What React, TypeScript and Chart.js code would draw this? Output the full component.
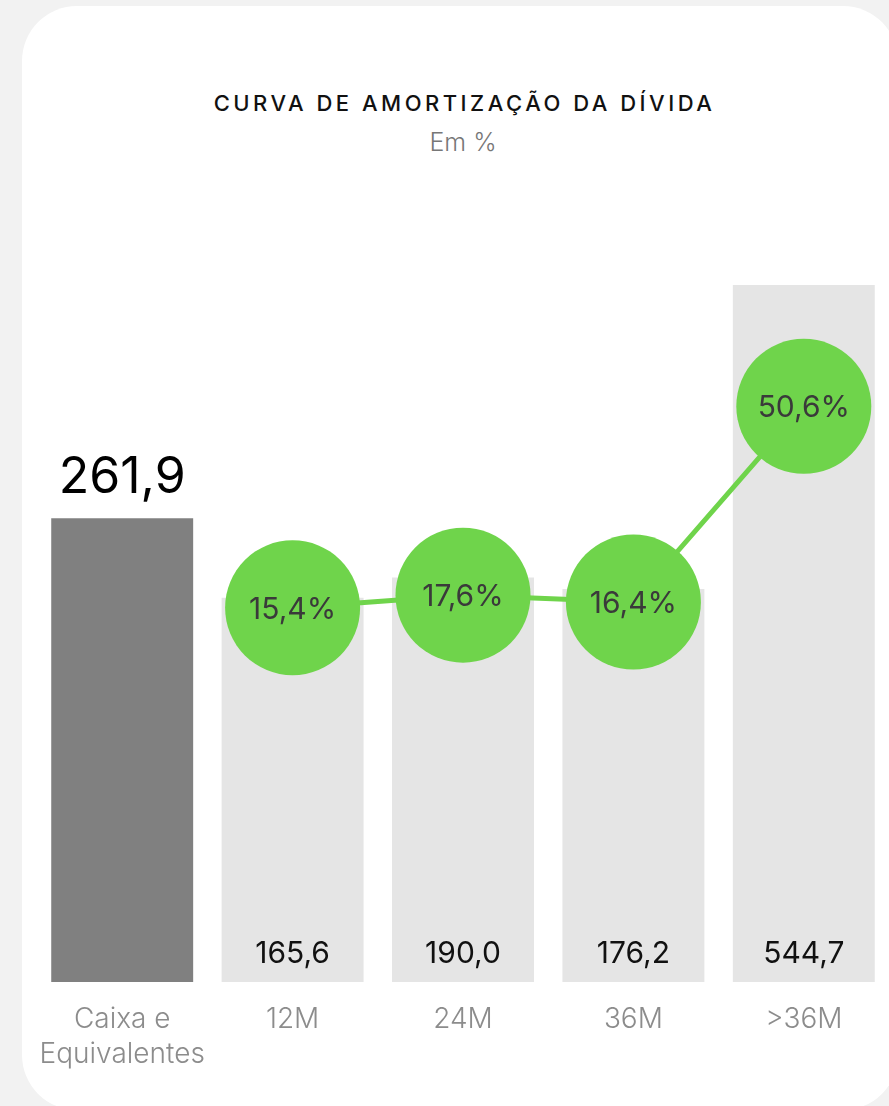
import React, { useEffect, useRef } from "react";
import { Chart, registerables } from "chart.js";

Chart.register(...registerables);

const categories: (string | string[])[] = [["Caixa e", "Equivalentes"], "12M", "24M", "36M", ">36M"];
const amounts = [261.9, 165.6, 190.0, 176.2, 544.7];
const shares: (number | null)[] = [null, 15.4, 17.6, 16.4, 50.6];
const barColors = ["#808080", "#e5e5e5", "#e5e5e5", "#e5e5e5", "#e5e5e5"];

const GREEN = "#6fd44b";
const FONT = "Inter, 'Noto Sans', sans-serif";

const fmt = (v: number) => v.toFixed(1).replace(".", ",");

const labelPlugin = {
  id: "valueLabels",
  afterDatasetsDraw(chart: any) {
    const ctx = chart.ctx as CanvasRenderingContext2D;
    const barIdx = chart.data.datasets.findIndex((d: any) => d.type === "bar");
    const lineIdx = chart.data.datasets.findIndex((d: any) => d.type === "line");
    const barMeta = chart.getDatasetMeta(barIdx);
    barMeta.data.forEach((bar: any, i: number) => {
      const { x, y, base } = bar.getProps(["x", "y", "base"], true);
      ctx.save();
      ctx.textAlign = "center";
      ctx.textBaseline = "alphabetic";
      if (i === 0) {
        ctx.font = `400 50px ${FONT}`;
        ctx.fillStyle = "#000000";
        ctx.fillText(fmt(amounts[i]), x, y - 25);
      } else {
        ctx.font = `400 30px ${FONT}`;
        ctx.fillStyle = "#111111";
        ctx.fillText(fmt(amounts[i]), x, base - 19);
      }
      ctx.restore();
    });
    const lineMeta = chart.getDatasetMeta(lineIdx);
    lineMeta.data.forEach((pt: any, i: number) => {
      const v = shares[i];
      if (v == null) return;
      const { x, y } = pt.getProps(["x", "y"], true);
      ctx.save();
      ctx.textAlign = "center";
      ctx.textBaseline = "alphabetic";
      ctx.font = `400 30px ${FONT}`;
      ctx.fillStyle = "#3a3a3a";
      ctx.fillText(fmt(v) + "%", x, y + 11);
      ctx.restore();
    });
  },
};

export default function App() {
  const ref = useRef<HTMLCanvasElement | null>(null);

  useEffect(() => {
    if (!ref.current) return;
    document.body.style.margin = "0";
    const chart = new Chart(ref.current, {
      type: "bar",
      data: {
        labels: categories as any,
        datasets: [
          {
            type: "line",
            data: shares,
            yAxisID: "y2",
            borderColor: GREEN,
            borderWidth: 5,
            backgroundColor: GREEN,
            pointBackgroundColor: GREEN,
            pointBorderWidth: 0,
            pointRadius: shares.map((s) => (s == null ? 0 : 67.5)),
            pointHoverRadius: 67.5,
            tension: 0,
            clip: false as any,
            order: 0,
          } as any,
          {
            type: "bar",
            data: amounts,
            yAxisID: "y",
            backgroundColor: barColors,
            borderWidth: 0,
            base: -300,
            barPercentage: 0.833,
            categoryPercentage: 1,
            order: 1,
          } as any,
        ],
      },
      options: {
        animation: false,
        responsive: false,
        maintainAspectRatio: false,
        layout: { autoPadding: false, padding: { left: 37, right: 0, top: 198, bottom: 33.5 } } as any,
        plugins: {
          legend: { display: false },
          tooltip: { enabled: false },
          title: { display: false },
        },
        scales: {
          x: {
            grid: { display: false, drawTicks: false },
            border: { display: false },
            ticks: {
              color: "#8c8c8c",
              padding: 20.5,
              maxRotation: 0,
              autoSkip: false,
              font: { family: FONT, size: 28, weight: "300" as any, lineHeight: 1.25 },
            },
            afterFit(scale: any) {
              scale.height = 90.5;
              scale.paddingLeft = 0;
              scale.paddingRight = 0;
            },
          },
          y: {
            display: false,
            min: -300,
            max: 650,
          },
          y2: {
            display: false,
            min: -50,
            max: 87,
          },
        },
      },
      plugins: [labelPlugin],
    });
    return () => chart.destroy();
  }, []);

  return (
    <div style={{ position: "fixed", inset: 0, background: "#f2f2f2", overflow: "hidden" }}>
      <div
        style={{
          position: "absolute",
          left: 22,
          top: 6,
          width: 876,
          height: 1104,
          background: "#ffffff",
          borderRadius: 55,
        }}
      />
      <div
        style={{
          position: "absolute",
          left: 0,
          top: 92,
          width: 929,
          textAlign: "center",
          fontFamily: FONT,
          fontSize: 22,
          lineHeight: "22px",
          fontWeight: 500,
          letterSpacing: 3.5,
          color: "#111111",
        }}
      >
        CURVA DE AMORTIZAÇÃO DA DÍVIDA
      </div>
      <div
        style={{
          position: "absolute",
          left: 0,
          top: 130,
          width: 926,
          textAlign: "center",
          fontFamily: FONT,
          fontSize: 25,
          lineHeight: "25px",
          fontWeight: 300,
          color: "#777777",
        }}
      >
        Em %
      </div>
      <canvas
        ref={ref}
        width={889}
        height={1106}
        style={{ position: "absolute", left: 0, top: 0, width: 889, height: 1106 }}
      />
    </div>
  );
}
